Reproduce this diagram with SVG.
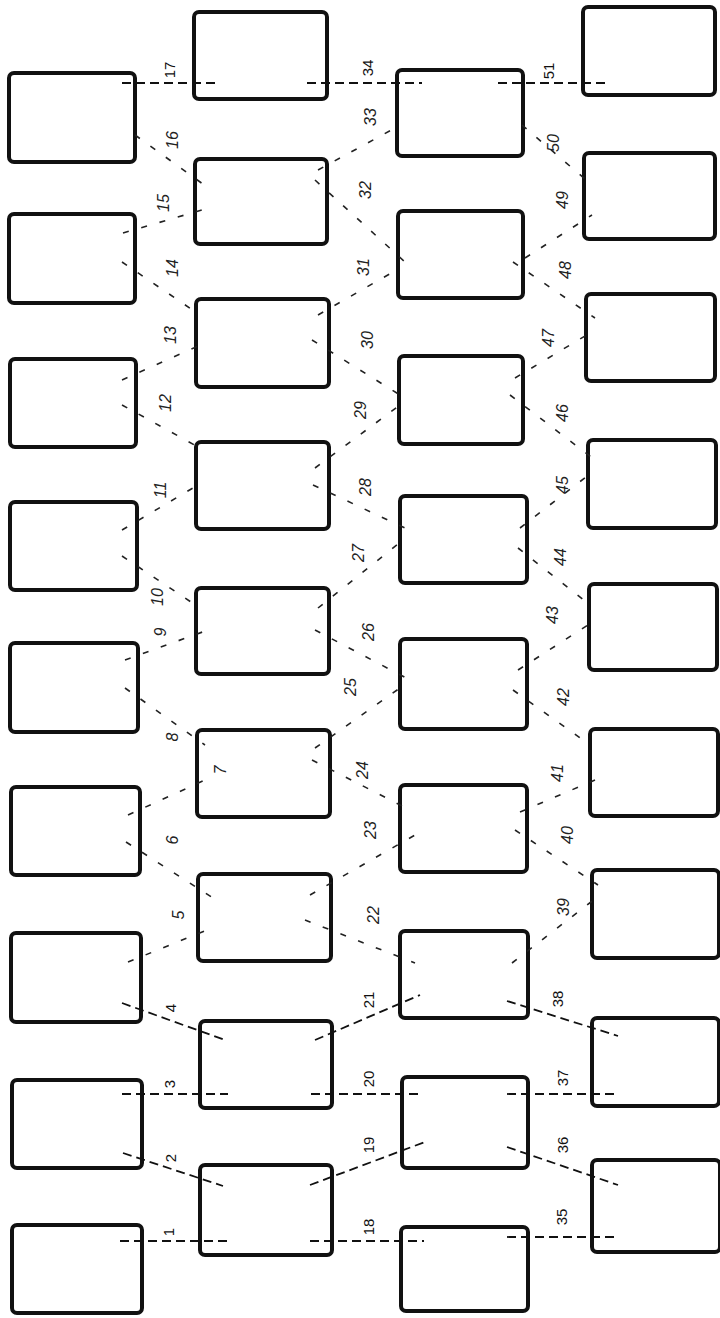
<svg xmlns="http://www.w3.org/2000/svg" width="720" height="1318" viewBox="0 0 720 1318">
<style>
.box{fill:#fff;stroke:#111;stroke-width:4}
.c{fill:none;stroke:#111;stroke-width:1.8;stroke-dasharray:9 5}
.f{fill:none;stroke:#222;stroke-width:1.6;stroke-dasharray:6 13}
.t{font-family:"Liberation Sans",Arial,sans-serif;font-size:15px;fill:#111;text-anchor:middle;dominant-baseline:central}
.h{font-family:"Liberation Sans",Arial,sans-serif;font-size:16px;font-style:italic;fill:#222;text-anchor:middle;dominant-baseline:central}
</style>
<rect width="720" height="1318" fill="#fff"/>
<g id="col1">
<g id="a0"><rect class="box" x="12" y="1225" width="130" height="88" rx="5"/></g>
<g id="a1"><rect class="box" x="12" y="1080" width="130" height="88" rx="5"/></g>
<g id="a2"><rect class="box" x="11" y="933" width="130" height="89" rx="5"/></g>
<g id="a3"><rect class="box" x="11" y="787" width="129" height="88" rx="5"/></g>
<g id="a4"><rect class="box" x="10" y="643" width="128" height="89" rx="5"/></g>
<g id="a5"><rect class="box" x="10" y="502" width="127" height="88" rx="5"/></g>
<g id="a6"><rect class="box" x="10" y="359" width="126" height="88" rx="5"/></g>
<g id="a7"><rect class="box" x="9" y="214" width="126" height="89" rx="5"/></g>
<g id="a8"><rect class="box" x="9" y="73" width="126" height="89" rx="5"/></g>
</g>
<g id="col2">
<g id="b0"><rect class="box" x="200" y="1165" width="132" height="90" rx="5"/></g>
<g id="b1"><rect class="box" x="200" y="1021" width="132" height="87" rx="5"/></g>
<g id="b2"><rect class="box" x="198" y="874" width="133" height="87" rx="5"/></g>
<g id="b3"><rect class="box" x="197" y="730" width="133" height="87" rx="5"/></g>
<g id="b4"><rect class="box" x="196" y="588" width="133" height="86" rx="5"/></g>
<g id="b5"><rect class="box" x="196" y="442" width="133" height="87" rx="5"/></g>
<g id="b6"><rect class="box" x="196" y="299" width="133" height="88" rx="5"/></g>
<g id="b7"><rect class="box" x="195" y="159" width="132" height="85" rx="5"/></g>
<g id="b8"><rect class="box" x="194" y="12" width="133" height="87" rx="5"/></g>
</g>
<g id="col3">
<g id="c0"><rect class="box" x="401" y="1227" width="127" height="84" rx="5"/></g>
<g id="c1"><rect class="box" x="402" y="1077" width="126" height="91" rx="5"/></g>
<g id="c2"><rect class="box" x="400" y="931" width="128" height="87" rx="5"/></g>
<g id="c3"><rect class="box" x="400" y="785" width="127" height="87" rx="5"/></g>
<g id="c4"><rect class="box" x="400" y="639" width="127" height="90" rx="5"/></g>
<g id="c5"><rect class="box" x="400" y="496" width="127" height="87" rx="5"/></g>
<g id="c6"><rect class="box" x="399" y="356" width="124" height="88" rx="5"/></g>
<g id="c7"><rect class="box" x="398" y="211" width="125" height="87" rx="5"/></g>
<g id="c8"><rect class="box" x="397" y="70" width="126" height="86" rx="5"/></g>
</g>
<g id="col4">
<g id="d0"><rect class="box" x="592" y="1160" width="128" height="92" rx="5"/></g>
<g id="d1"><rect class="box" x="592" y="1018" width="127" height="88" rx="5"/></g>
<g id="d2"><rect class="box" x="592" y="870" width="127" height="88" rx="5"/></g>
<g id="d3"><rect class="box" x="590" y="729" width="128" height="87" rx="5"/></g>
<g id="d4"><rect class="box" x="589" y="584" width="128" height="86" rx="5"/></g>
<g id="d5"><rect class="box" x="588" y="440" width="128" height="88" rx="5"/></g>
<g id="d6"><rect class="box" x="586" y="294" width="129" height="87" rx="5"/></g>
<g id="d7"><rect class="box" x="584" y="153" width="131" height="86" rx="5"/></g>
<g id="d8"><rect class="box" x="583" y="7" width="132" height="88" rx="5"/></g>
</g>
<g id="connectors">
<line class="c" x1="120" y1="1241" x2="230" y2="1241"/>
<line class="c" x1="123" y1="1153" x2="223" y2="1186"/>
<line class="c" x1="122" y1="1094" x2="228" y2="1094"/>
<line class="c" x1="122" y1="1003" x2="225" y2="1040"/>
<line class="f" x1="128" y1="962" x2="212" y2="928"/>
<line class="f" x1="126" y1="842" x2="213" y2="898"/>
<line class="f" x1="128" y1="815" x2="205" y2="780"/>
<line class="f" x1="125" y1="688" x2="205" y2="745"/>
<line class="f" x1="125" y1="660" x2="208" y2="630"/>
<line class="f" x1="122" y1="556" x2="200" y2="608"/>
<line class="f" x1="122" y1="530" x2="198" y2="485"/>
<line class="f" x1="122" y1="405" x2="200" y2="448"/>
<line class="f" x1="122" y1="380" x2="205" y2="343"/>
<line class="f" x1="122" y1="262" x2="200" y2="315"/>
<line class="f" x1="123" y1="233" x2="202" y2="210"/>
<line class="f" x1="135" y1="135" x2="207" y2="187"/>
<line class="c" x1="122" y1="83" x2="215" y2="83"/>
<line class="c" x1="310" y1="1241" x2="424" y2="1241"/>
<line class="c" x1="310" y1="1185" x2="425" y2="1142"/>
<line class="c" x1="311" y1="1094" x2="423" y2="1094"/>
<line class="c" x1="315" y1="1040" x2="420" y2="995"/>
<line class="f" x1="305" y1="920" x2="415" y2="963"/>
<line class="f" x1="310" y1="895" x2="415" y2="835"/>
<line class="f" x1="312" y1="760" x2="410" y2="810"/>
<line class="f" x1="315" y1="748" x2="400" y2="688"/>
<line class="f" x1="315" y1="630" x2="410" y2="680"/>
<line class="f" x1="318" y1="608" x2="403" y2="540"/>
<line class="f" x1="313" y1="485" x2="405" y2="528"/>
<line class="f" x1="315" y1="468" x2="400" y2="405"/>
<line class="f" x1="312" y1="340" x2="400" y2="395"/>
<line class="f" x1="318" y1="315" x2="400" y2="268"/>
<line class="f" x1="315" y1="180" x2="405" y2="262"/>
<line class="f" x1="318" y1="170" x2="395" y2="128"/>
<line class="c" x1="307" y1="83" x2="422" y2="83"/>
<line class="c" x1="507" y1="1237" x2="616" y2="1237"/>
<line class="c" x1="507" y1="1147" x2="618" y2="1185"/>
<line class="c" x1="507" y1="1094" x2="615" y2="1094"/>
<line class="c" x1="507" y1="1001" x2="618" y2="1036"/>
<line class="f" x1="512" y1="963" x2="600" y2="895"/>
<line class="f" x1="515" y1="830" x2="598" y2="885"/>
<line class="f" x1="520" y1="812" x2="595" y2="780"/>
<line class="f" x1="513" y1="690" x2="590" y2="745"/>
<line class="f" x1="518" y1="670" x2="588" y2="625"/>
<line class="f" x1="518" y1="548" x2="590" y2="605"/>
<line class="f" x1="520" y1="528" x2="595" y2="470"/>
<line class="f" x1="510" y1="395" x2="595" y2="460"/>
<line class="f" x1="515" y1="378" x2="595" y2="330"/>
<line class="f" x1="513" y1="262" x2="595" y2="318"/>
<line class="f" x1="525" y1="258" x2="592" y2="215"/>
<line class="f" x1="522" y1="125" x2="592" y2="185"/>
<line class="c" x1="498" y1="83" x2="607" y2="83"/>
</g>
<g id="labels">
<text class="t" transform="rotate(-90 168 1232)" x="168" y="1232">1</text>
<text class="t" transform="rotate(-90 170 1158)" x="170" y="1158">2</text>
<text class="t" transform="rotate(-90 169 1084)" x="169" y="1084">3</text>
<text class="t" transform="rotate(-90 170 1008)" x="170" y="1008">4</text>
<text class="h" transform="rotate(-90 178 915)" x="178" y="915">5</text>
<text class="h" transform="rotate(-90 172 840)" x="172" y="840">6</text>
<text class="h" transform="rotate(-90 220 770)" x="220" y="770">7</text>
<text class="h" transform="rotate(-90 172 737)" x="172" y="737">8</text>
<text class="h" transform="rotate(-90 160 632)" x="160" y="632">9</text>
<text class="h" transform="rotate(-90 157 597)" x="157" y="597">10</text>
<text class="h" transform="rotate(-90 160 490)" x="160" y="490">11</text>
<text class="h" transform="rotate(-90 165 403)" x="165" y="403">12</text>
<text class="h" transform="rotate(-90 170 335)" x="170" y="335">13</text>
<text class="h" transform="rotate(-90 172 268)" x="172" y="268">14</text>
<text class="h" transform="rotate(-90 163 203)" x="163" y="203">15</text>
<text class="h" transform="rotate(-90 172 140)" x="172" y="140">16</text>
<text class="t" transform="rotate(-90 169 70)" x="169" y="70">17</text>
<text class="t" transform="rotate(-90 368 1227)" x="368" y="1227">18</text>
<text class="t" transform="rotate(-90 368 1145)" x="368" y="1145">19</text>
<text class="t" transform="rotate(-90 368 1079)" x="368" y="1079">20</text>
<text class="t" transform="rotate(-90 368 1000)" x="368" y="1000">21</text>
<text class="h" transform="rotate(-90 373 915)" x="373" y="915">22</text>
<text class="h" transform="rotate(-90 370 830)" x="370" y="830">23</text>
<text class="h" transform="rotate(-90 362 770)" x="362" y="770">24</text>
<text class="h" transform="rotate(-90 350 687)" x="350" y="687">25</text>
<text class="h" transform="rotate(-90 368 632)" x="368" y="632">26</text>
<text class="h" transform="rotate(-90 358 553)" x="358" y="553">27</text>
<text class="h" transform="rotate(-90 365 487)" x="365" y="487">28</text>
<text class="h" transform="rotate(-90 360 410)" x="360" y="410">29</text>
<text class="h" transform="rotate(-90 367 340)" x="367" y="340">30</text>
<text class="h" transform="rotate(-90 363 267)" x="363" y="267">31</text>
<text class="h" transform="rotate(-90 365 190)" x="365" y="190">32</text>
<text class="h" transform="rotate(-90 370 117)" x="370" y="117">33</text>
<text class="t" transform="rotate(-90 367 68)" x="367" y="68">34</text>
<text class="t" transform="rotate(-90 561 1217)" x="561" y="1217">35</text>
<text class="t" transform="rotate(-90 562 1145)" x="562" y="1145">36</text>
<text class="t" transform="rotate(-90 562 1078)" x="562" y="1078">37</text>
<text class="t" transform="rotate(-90 557 999)" x="557" y="999">38</text>
<text class="h" transform="rotate(-90 563 907)" x="563" y="907">39</text>
<text class="h" transform="rotate(-90 567 835)" x="567" y="835">40</text>
<text class="h" transform="rotate(-90 557 773)" x="557" y="773">41</text>
<text class="h" transform="rotate(-90 563 697)" x="563" y="697">42</text>
<text class="h" transform="rotate(-90 552 615)" x="552" y="615">43</text>
<text class="h" transform="rotate(-90 560 557)" x="560" y="557">44</text>
<text class="h" transform="rotate(-90 562 485)" x="562" y="485">45</text>
<text class="h" transform="rotate(-90 562 413)" x="562" y="413">46</text>
<text class="h" transform="rotate(-90 548 338)" x="548" y="338">47</text>
<text class="h" transform="rotate(-90 565 270)" x="565" y="270">48</text>
<text class="h" transform="rotate(-90 562 200)" x="562" y="200">49</text>
<text class="h" transform="rotate(-90 553 143)" x="553" y="143">50</text>
<text class="t" transform="rotate(-90 548 71)" x="548" y="71">51</text>
</g>
</svg>
